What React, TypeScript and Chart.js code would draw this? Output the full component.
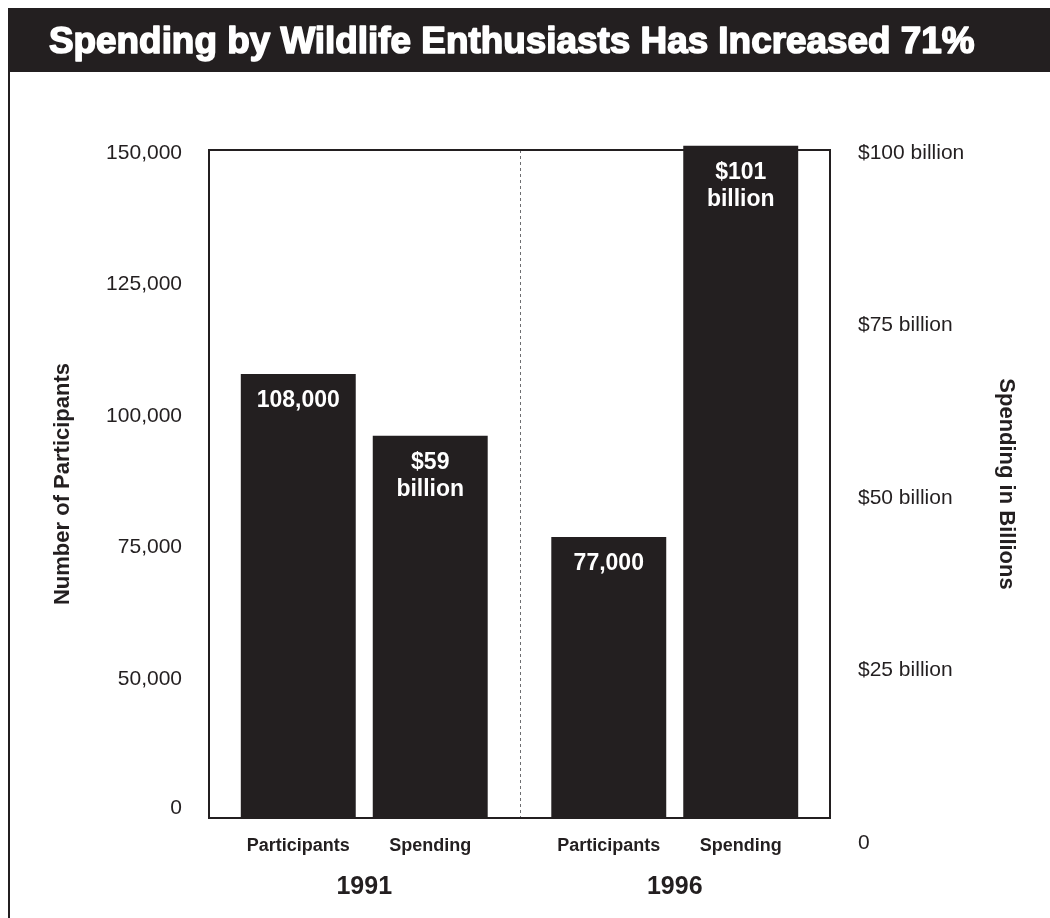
import React, { useEffect, useRef } from 'react';
import { Chart, registerables } from 'chart.js';

Chart.register(...registerables);

// ---- data ----
const chartTitle = 'Spending by Wildlife Enthusiasts Has Increased 71%';
const years = ['1991', '1996'];
const seriesNames = ['Participants', 'Spending'];
const participants = [108000, 77000];
const spendingBillions = [59, 101];
const participantValueLabels = [['108,000'], ['77,000']];
const spendingValueLabels = [['$59', 'billion'], ['$101', 'billion']];
const participantTicks = [50000, 75000, 100000, 125000, 150000];
const spendingTicks = [0, 25, 50, 75, 100];
const participantAxisBreakLabel = '0';
const leftAxisTitle = 'Number of Participants';
const rightAxisTitle = 'Spending in Billions';

// axis ranges (the participants axis is broken below 50,000 in the original)
const participantAxisMin = 23600;
const participantAxisMax = 150600;
const spendingAxisMin = 3.6;
const spendingAxisMax = 100.4;

const INK = '#231f20';
const FONT = '"Liberation Sans", Arial, Helvetica, sans-serif';
const valueLabelSets = [participantValueLabels, spendingValueLabels];

const decorPlugin = {
  id: 'decor',
  beforeDraw(chart: any) {
    const { ctx, width, height } = chart;
    ctx.save();
    ctx.fillStyle = '#ffffff';
    ctx.fillRect(0, 0, width, height);
    ctx.fillStyle = INK;
    ctx.fillRect(8, 8, width - 8, 64);
    ctx.fillRect(8, 72, 2, height - 72);
    let size = 36;
    ctx.font = `bold ${size}px ${FONT}`;
    const w = ctx.measureText(chartTitle).width;
    size = (size * 926) / w;
    ctx.font = `bold ${size}px ${FONT}`;
    ctx.fillStyle = '#ffffff';
    ctx.strokeStyle = '#ffffff';
    ctx.lineWidth = 1.6;
    ctx.lineJoin = 'round';
    ctx.textAlign = 'left';
    ctx.textBaseline = 'alphabetic';
    ctx.fillText(chartTitle, 49, 53);
    ctx.strokeText(chartTitle, 49, 53);
    ctx.restore();
  },
  beforeDatasetsDraw(chart: any) {
    const { ctx, chartArea: a, scales } = chart;
    ctx.save();
    const xs = scales.x;
    const sep = Math.round((xs.getPixelForValue(0) + xs.getPixelForValue(1)) / 2) + 0.5;
    ctx.strokeStyle = '#6d6e71';
    ctx.lineWidth = 1;
    ctx.setLineDash([3, 3]);
    ctx.beginPath();
    ctx.moveTo(sep, a.top);
    ctx.lineTo(sep, a.bottom);
    ctx.stroke();
    ctx.setLineDash([]);
    ctx.strokeStyle = INK;
    ctx.lineWidth = 2;
    ctx.strokeRect(a.left, a.top, a.right - a.left, a.bottom - a.top);
    ctx.restore();
  },
  afterDatasetsDraw(chart: any) {
    const { ctx, chartArea: a, scales } = chart;
    ctx.save();
    // bottom edge of the frame over the bar feet
    ctx.strokeStyle = INK;
    ctx.lineWidth = 2;
    ctx.beginPath();
    ctx.moveTo(a.left - 1, a.bottom);
    ctx.lineTo(a.right + 1, a.bottom);
    ctx.stroke();
    chart.data.datasets.forEach((ds: any, di: number) => {
      const meta = chart.getDatasetMeta(di);
      meta.data.forEach((el: any, i: number) => {
        // value labels inside bar tops
        ctx.fillStyle = '#ffffff';
        ctx.font = `bold 23px ${FONT}`;
        ctx.textAlign = 'center';
        ctx.textBaseline = 'middle';
        const lines = valueLabelSets[di][i];
        lines.forEach((ln: string, k: number) => {
          ctx.fillText(ln, el.x, el.y + 27 + k * 27);
        });
        // series names under bars
        ctx.fillStyle = INK;
        ctx.font = `bold 18px ${FONT}`;
        ctx.fillText(ds.label, el.x, a.bottom + 28);
      });
    });
    // axis break "0" on the participants axis
    const yP = scales.yP;
    ctx.fillStyle = INK;
    ctx.font = `21px ${FONT}`;
    ctx.textAlign = 'right';
    ctx.textBaseline = 'middle';
    ctx.fillText(participantAxisBreakLabel, yP.right - 27, a.bottom - 10);
    ctx.restore();
  },
};

export default function App() {
  const canvasRef = useRef<HTMLCanvasElement | null>(null);

  useEffect(() => {
    if (!canvasRef.current) return;
    const chart = new Chart(canvasRef.current, {
      type: 'bar',
      data: {
        labels: years,
        datasets: [
          {
            label: seriesNames[0],
            data: participants,
            yAxisID: 'yP',
            backgroundColor: INK,
            borderWidth: 0,
            categoryPercentage: 0.85,
            barPercentage: 0.871,
            clip: { left: 0, top: 0, right: 0, bottom: 0 },
          },
          {
            label: seriesNames[1],
            data: spendingBillions,
            yAxisID: 'yS',
            backgroundColor: INK,
            borderWidth: 0,
            categoryPercentage: 0.85,
            barPercentage: 0.871,
            clip: { left: false, top: false, right: false, bottom: 0 },
          },
        ],
      },
      options: {
        animation: false,
        responsive: false,
        devicePixelRatio: 1,
        layout: { padding: { top: 150, left: 0, right: 0, bottom: 0 } },
        plugins: {
          legend: { display: false },
          tooltip: { enabled: false },
          title: { display: false },
        },
        scales: {
          x: {
            type: 'category',
            offset: true,
            grid: { display: false, drawTicks: false },
            border: { display: false },
            ticks: {
              padding: 54,
              color: INK,
              font: { family: FONT, size: 25, weight: 'bold' },
            },
            afterFit: (s: any) => {
              s.height = 100;
            },
          },
          yP: {
            type: 'linear',
            position: 'left',
            min: participantAxisMin,
            max: participantAxisMax,
            grid: { display: false, drawTicks: false },
            border: { display: false },
            afterBuildTicks: (s: any) => {
              s.ticks = participantTicks.map((v) => ({ value: v }));
            },
            afterFit: (s: any) => {
              s.width = 209;
            },
            ticks: {
              autoSkip: false,
              padding: 27,
              color: INK,
              font: { family: FONT, size: 21 },
              callback: (v: any) => Number(v).toLocaleString('en-US'),
            },
            title: {
              display: true,
              text: leftAxisTitle,
              color: INK,
              font: { family: FONT, size: 22, weight: 'bold' },
              padding: { top: 50, bottom: 0 },
            },
          },
          yS: {
            type: 'linear',
            position: 'right',
            min: spendingAxisMin,
            max: spendingAxisMax,
            grid: { display: false, drawTicks: false },
            border: { display: false },
            afterBuildTicks: (s: any) => {
              s.ticks = spendingTicks.map((v) => ({ value: v }));
            },
            afterFit: (s: any) => {
              s.width = 220;
            },
            ticks: {
              autoSkip: false,
              padding: 28,
              color: INK,
              font: { family: FONT, size: 21 },
              callback: (v: any) => (Number(v) === 0 ? '0' : `$${v} billion`),
            },
            title: {
              display: true,
              text: rightAxisTitle,
              color: INK,
              font: { family: FONT, size: 22, weight: 'bold' },
              padding: { top: 31, bottom: 0 },
            },
          },
        },
      } as any,
      plugins: [decorPlugin],
    });
    return () => chart.destroy();
  }, []);

  return (
    <div style={{ position: 'absolute', left: 0, top: 0, width: 1050, height: 918, background: '#fff' }}>
      <canvas ref={canvasRef} width={1050} height={918} style={{ display: 'block', width: 1050, height: 918 }} />
    </div>
  );
}
